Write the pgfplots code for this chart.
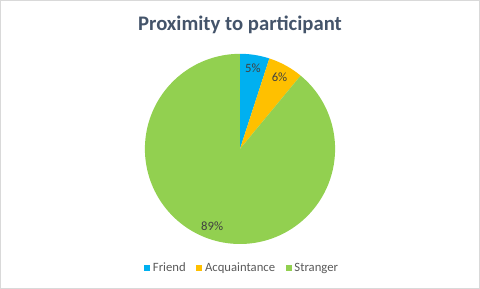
\documentclass[border=0pt]{standalone}
\usepackage{fontspec}
\setmainfont{Carlito}
\usepackage{pgfplots}
\usepackage{pgfplotstable}
\pgfplotsset{compat=1.18}
\definecolor{cFriend}{HTML}{00B0F0}
\definecolor{cAcq}{HTML}{FFC000}
\definecolor{cStr}{HTML}{92D050}
\definecolor{cTitle}{HTML}{44546A}
\definecolor{cText}{HTML}{404040}
\definecolor{cLeg}{HTML}{595959}
\definecolor{cBorder}{HTML}{D9D9D9}
\pgfplotstableread{
label pct
Friend 5
Acquaintance 6
Stranger 89
}\piedata
\begin{document}
\begin{tikzpicture}
\pgfplotstablegetelem{0}{pct}\of\piedata \let\pA\pgfplotsretval
\pgfplotstablegetelem{1}{pct}\of\piedata \let\pB\pgfplotsretval
\pgfplotstablegetelem{2}{pct}\of\piedata \let\pC\pgfplotsretval
\pgfmathsetmacro{\aA}{\pA*3.6}
\pgfmathsetmacro{\aB}{\aA+\pB*3.6}
\pgfmathsetmacro{\aC}{\aB+\pC*3.6}
\pgfmathsetmacro{\mA}{\aA/2}
\pgfmathsetmacro{\mB}{(\aA+\aB)/2}
\pgfmathsetmacro{\mC}{(\aB+\aC)/2}
\begin{axis}[
  width=360pt, height=216.75pt, scale only axis,
  xmin=0, xmax=480, ymin=0, ymax=289,
  hide axis, clip=false,
  legend columns=3,
  legend style={at={(axis cs:242.5,21)}, anchor=center, draw=none, fill=none,
    font=\fontsize{9.5}{11}\selectfont\color{cLeg},
    /tikz/every even column/.append style={column sep=6pt},
    inner sep=0pt, cells={anchor=west}},
  legend image code/.code={\fill[#1,draw=none] (0pt,-2.25pt) rectangle (4.5pt,2.25pt);},
]
\draw[cBorder] (axis cs:0.5,0.5) rectangle (axis cs:479.5,288.5);
\addplot[fill=cFriend, draw=none, domain=0:\aA, samples=30]
  ({240+95*sin(x)}, {140+95*cos(x)}) -- (axis cs:240,140) -- cycle;
\addlegendentry{Friend}
\addplot[fill=cAcq, draw=none, domain=\aA:\aB, samples=30]
  ({240+95*sin(x)}, {140+95*cos(x)}) -- (axis cs:240,140) -- cycle;
\addlegendentry{Acquaintance}
\addplot[fill=cStr, draw=none, domain=\aB:\aC, samples=150]
  ({240+95*sin(x)}, {140+95*cos(x)}) -- (axis cs:240,140) -- cycle;
\addlegendentry{Stranger}
\node[text=cText, font=\fontsize{9.5}{11}\selectfont] at (axis cs:{240+82*sin(\mA)},{140+82*cos(\mA)}) {\pA\%};
\node[text=cText, font=\fontsize{9.5}{11}\selectfont] at (axis cs:{240+82*sin(\mB)},{140+82*cos(\mB)}) {\pB\%};
\node[text=cText, font=\fontsize{9.5}{11}\selectfont] at (axis cs:{240+82*sin(\mC)},{140+82*cos(\mC)}) {\pC\%};
\node[text=cTitle, font=\fontsize{15.5}{18}\selectfont\bfseries, anchor=base] at (axis cs:240,258.3) {Proximity to participant};
\end{axis}
\end{tikzpicture}
\end{document}
